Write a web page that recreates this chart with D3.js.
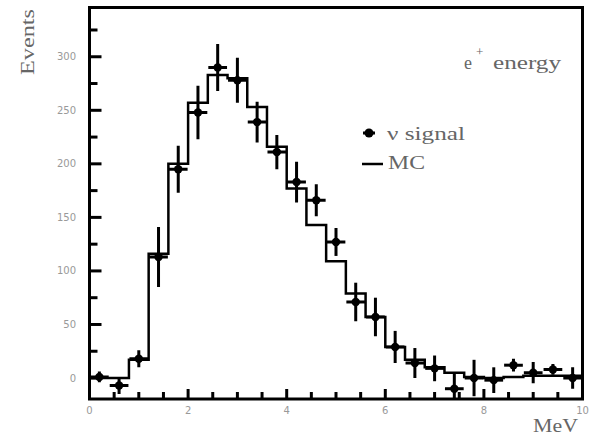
<!DOCTYPE html>
<head>
  <meta charset="utf-8">
  <script src="https://d3js.org/d3.v7.min.js"></script>
<style>
body { margin:0; background:#fff; }
.tick-label { font-family: "DejaVu Sans", sans-serif; font-size: 10px; fill: #999; }
.big-label { font-family: "Liberation Serif", serif; font-size: 18px; fill: #666; }
</style>
</head>

<body>
<script>
// bin edges (MeV) and bin centres
var binLo  = [0.0, 0.4, 0.8, 1.2, 1.6, 2.0, 2.4, 2.8, 3.2, 3.6, 4.0, 4.4, 4.8, 5.2, 5.6, 6.0, 6.4, 6.8, 7.2, 7.6, 8.0, 8.4, 8.8, 9.2, 9.6];
var binHi  = [0.4, 0.8, 1.2, 1.6, 2.0, 2.4, 2.8, 3.2, 3.6, 4.0, 4.4, 4.8, 5.2, 5.6, 6.0, 6.4, 6.8, 7.2, 7.6, 8.0, 8.4, 8.8, 9.2, 9.6, 10.0];
var binMid = [0.2, 0.6, 1.0, 1.4, 1.8, 2.2, 2.6, 3.0, 3.4, 3.8, 4.2, 4.6, 5.0, 5.4, 5.8, 6.2, 6.6, 7.0, 7.4, 7.8, 8.2, 8.6, 9.0, 9.4, 9.8];

// nu signal data points and errors
var signal = [1, -7, 18, 113, 195, 248, 290, 278, 239, 211, 183, 166, 127, 71, 57, 29, 14, 9, -10, 0, -2, 12, 5, 8, 0];
var sigErr = [5, 8, 8, 28, 22, 25, 22, 21, 19, 16, 19, 15, 13, 18, 18, 15, 14, 12, 15, 17, 12, 6, 10, 5, 10];

// MC histogram
var mc = [0, 0, 17, 116, 200, 257, 283, 280, 253, 216, 177, 143, 109, 79, 57, 29, 17, 10, 5, 1, 0, 1, 2, 2, 2];

// ticks
var xMajor = [0, 2, 4, 6, 8, 10];
var xMinor = [0.5, 1, 1.5, 2.5, 3, 3.5, 4.5, 5, 5.5, 6.5, 7, 7.5, 8.5, 9, 9.5];
var yMajor = [0, 50, 100, 150, 200, 250, 300];
var yMinor = [25, 75, 125, 175, 225, 275, 325];

var W = 590, H = 436;
var pL = 89.5, pR = 582.5, pT = 7.5, pB = 399;

var x = d3.scaleLinear().domain([0, 10]).range([pL, pR]);
var y = d3.scaleLinear().domain([-19.6, 346]).range([pB, pT]);

var svg = d3.select("body").append("svg")
    .attr("width", W)
    .attr("height", H);

svg.append("rect").attr("width", W).attr("height", H).attr("fill", "#fff");

svg.append("clipPath").attr("id", "plot")
  .append("rect")
    .attr("x", pL).attr("y", pT)
    .attr("width", pR - pL).attr("height", pB - pT);

var plot = svg.append("g").attr("clip-path", "url(#plot)");

// MC step line
var steps = [];
binLo.forEach((lo, i) => {
  steps.push([lo, mc[i]]);
  steps.push([binHi[i], mc[i]]);
});
plot.append("path")
    .datum(steps)
    .attr("fill", "none")
    .attr("stroke", "#000")
    .attr("stroke-width", 2.5)
    .attr("d", d3.line().x(d => x(d[0])).y(d => y(d[1])));

// data points
var pts = plot.selectAll(".pt")
    .data(binMid.map((m, i) => ({m: m, lo: binLo[i], hi: binHi[i], v: signal[i], e: sigErr[i]})))
  .enter().append("g")
    .attr("class", "pt");

pts.append("line")
    .attr("x1", d => x(d.m)).attr("x2", d => x(d.m))
    .attr("y1", d => y(d.v - d.e)).attr("y2", d => y(d.v + d.e))
    .attr("stroke", "#000").attr("stroke-width", 3);
pts.append("line")
    .attr("x1", d => x(d.lo) + 0.5).attr("x2", d => x(d.hi) - 0.5)
    .attr("y1", d => y(d.v)).attr("y2", d => y(d.v))
    .attr("stroke", "#000").attr("stroke-width", 3);
pts.append("circle")
    .attr("cx", d => x(d.m)).attr("cy", d => y(d.v))
    .attr("r", 4.2)
    .attr("fill", "#000");

// frame
svg.append("rect")
    .attr("x", pL).attr("y", pT)
    .attr("width", pR - pL).attr("height", pB - pT)
    .attr("fill", "none")
    .attr("stroke", "#000")
    .attr("stroke-width", 3);

// y ticks (inside, on left axis)
svg.selectAll(".ymaj").data(yMajor).enter().append("line")
    .attr("x1", pL).attr("x2", pL + 12)
    .attr("y1", d => y(d)).attr("y2", d => y(d))
    .attr("stroke", "#000").attr("stroke-width", 3);
svg.selectAll(".ymin").data(yMinor).enter().append("line")
    .attr("x1", pL).attr("x2", pL + 8)
    .attr("y1", d => y(d)).attr("y2", d => y(d))
    .attr("stroke", "#000").attr("stroke-width", 3);
svg.selectAll(".ylab").data(yMajor).enter().append("text")
    .attr("class", "tick-label")
    .attr("x", 76).attr("y", d => y(d) + 3.5)
    .attr("text-anchor", "end")
    .text(d => d);

// x ticks (inside, on bottom axis)
svg.selectAll(".xmaj").data(xMajor).enter().append("line")
    .attr("x1", d => x(d)).attr("x2", d => x(d))
    .attr("y1", pB).attr("y2", pB - 10)
    .attr("stroke", "#000").attr("stroke-width", 3);
svg.selectAll(".xmin").data(xMinor).enter().append("line")
    .attr("x1", d => x(d)).attr("x2", d => x(d))
    .attr("y1", pB).attr("y2", pB - 7)
    .attr("stroke", "#000").attr("stroke-width", 3);
svg.selectAll(".xlab").data(xMajor).enter().append("text")
    .attr("class", "tick-label")
    .attr("x", d => x(d)).attr("y", 414)
    .attr("text-anchor", "middle")
    .text(d => d);

// axis titles
svg.append("text")
    .attr("class", "big-label")
    .attr("transform", "translate(34,75) rotate(-90)")
    .attr("textLength", 66).attr("lengthAdjust", "spacingAndGlyphs")
    .text("Events");
svg.append("text")
    .attr("class", "big-label")
    .attr("x", 533).attr("y", 432)
    .attr("textLength", 45).attr("lengthAdjust", "spacingAndGlyphs")
    .text("MeV");

// e+ energy
svg.append("text").attr("class", "big-label")
    .attr("x", 464).attr("y", 69).text("e");
svg.append("text").attr("class", "big-label")
    .attr("x", 476).attr("y", 56).style("font-size", "13px").text("+");
svg.append("text").attr("class", "big-label")
    .attr("x", 493).attr("y", 69)
    .attr("textLength", 68).attr("lengthAdjust", "spacingAndGlyphs")
    .text("energy");

// legend
svg.append("circle").attr("cx", 369).attr("cy", 133).attr("r", 4.5).attr("fill", "#000");
svg.append("line").attr("x1", 363).attr("x2", 375).attr("y1", 133).attr("y2", 133)
    .attr("stroke", "#000").attr("stroke-width", 3);
svg.append("text").attr("class", "big-label")
    .attr("x", 387).attr("y", 140)
    .attr("textLength", 78).attr("lengthAdjust", "spacingAndGlyphs")
    .text("ν signal");
svg.append("line").attr("x1", 362).attr("x2", 383).attr("y1", 164).attr("y2", 164)
    .attr("stroke", "#000").attr("stroke-width", 2.5);
svg.append("text").attr("class", "big-label")
    .attr("x", 388).attr("y", 169)
    .attr("textLength", 37).attr("lengthAdjust", "spacingAndGlyphs")
    .text("MC");
</script>
</body>
